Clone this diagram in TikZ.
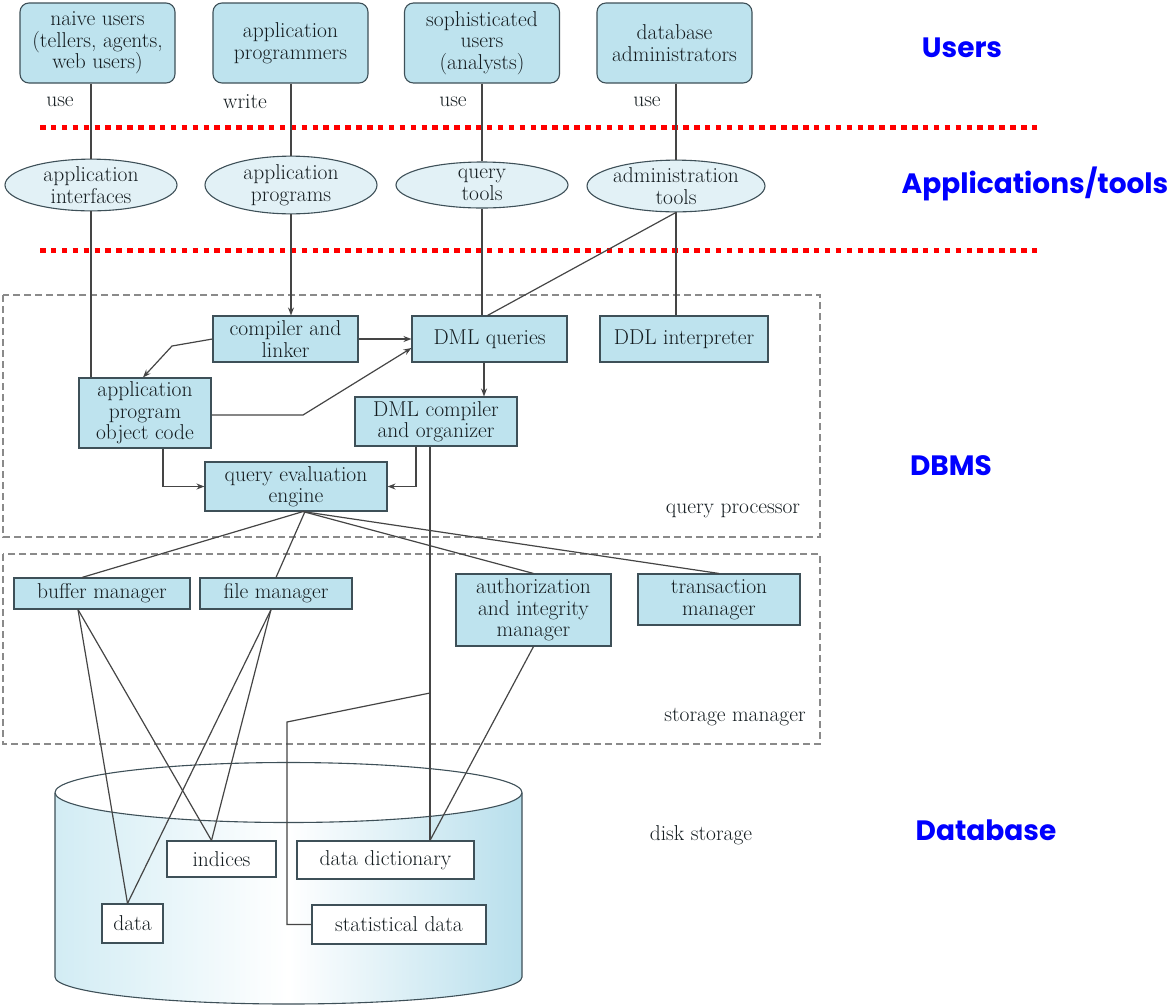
\documentclass[tikz,border=0pt]{standalone}
\usepackage{fontspec}
\newfontfamily\tagfont{Poppins}
\usetikzlibrary{shapes.geometric,arrows.meta,calc}
\definecolor{boxfill}{HTML}{BEE3EE}
\definecolor{toolfill}{HTML}{E2F1F6}
\definecolor{boxline}{HTML}{3E5058}
\definecolor{linecol}{HTML}{454545}
\definecolor{textcol}{HTML}{141C20}
\definecolor{groupcol}{HTML}{8A8A8A}
\definecolor{cylL}{HTML}{D2ECF4}
\definecolor{cylR}{HTML}{B8DFEC}
\newcommand\dfont{\fontsize{21.5}{21.5}\selectfont}
\newcommand\tagsize{\fontsize{28}{28}\selectfont}
\begin{document}
\begin{tikzpicture}[x=1pt,y=-1pt,
  box/.style={draw=boxline, line width=1.1pt, fill=boxfill, inner sep=0pt,
    align=center, font=\dfont, text=textcol},
  ubox/.style={box, rounded corners=9pt, minimum width=155pt, minimum height=80pt},
  tool/.style={ellipse, draw=boxline, line width=1.1pt, fill=toolfill, inner sep=0pt,
    align=center, font=\dfont, text=textcol, minimum width=172pt, minimum height=46pt},
  store/.style={box, fill=white},
  link/.style={draw=linecol, line width=1.2pt},
  arr/.style={link, -{Stealth[length=8pt,width=6pt]}},
  sep/.style={red, line width=5pt, dash pattern=on 5.5pt off 5.4pt},
  group/.style={draw=groupcol, line width=1.3pt, dash pattern=on 7pt off 4pt},
  note/.style={font=\dfont, text=textcol, inner sep=0pt},
  tag/.style={font=\tagfont\bfseries\tagsize, text=blue, inner sep=0pt},
  cylline/.style={draw=boxline, line width=1.1pt}
]
\useasboundingbox (0,0) rectangle (1173,1005);

% disk storage cylinder
\shade[left color=cylL, right color=cylR, middle color=white]
  (55,793) -- (55,977) arc[start angle=180, end angle=360, x radius=233.5pt, y radius=27pt]
  -- (522,793) -- cycle;
\draw[cylline] (55,793) -- (55,977) arc[start angle=180, end angle=360, x radius=233.5pt, y radius=27pt]
  -- (522,793);
\draw[cylline, fill=white] (288.5,792.5) ellipse [x radius=233.5pt, y radius=30pt];

% layer separators
\draw[sep] (40,127) -- (1038,127);
\draw[sep] (40,250) -- (1038,250);

% dashed groups
\draw[group] (3,295) rectangle (820,537);
\draw[group] (3,554) rectangle (820,744);
\node[note] at (733,511) {query processor};
\node[note] at (735,717) {storage manager};
\node[note] at (701,835) {disk storage};

% users
\node[ubox] (u1) at (97.5,43) {naive users\\(tellers, agents,\\web users)};
\node[ubox] (u2) at (290.5,43) {application\\programmers};
\node[ubox] (u3) at (482,43) {sophisticated\\users\\(analysts)};
\node[ubox] (u4) at (674.5,43) {database\\administrators};

\node[note] (l1) at (60,102) {use};
\node[note] (l2) at (245,102) {write};
\node[note] (l3) at (453,102) {use};
\node[note] (l4) at (647,102) {use};

% applications and tools
\node[tool] (a1) at (91,185) {application\\interfaces};
\node[tool] (a2) at (291,185) {application\\programs};
\node[tool] (a3) at (482,185) {query\\tools};
\node[tool] (a4) at (676,186) {administration\\tools};

% query processor
\node[box, minimum width=145pt, minimum height=46pt] (cl) at (285.5,339) {compiler and\\linker};
\node[box, minimum width=155pt, minimum height=46pt] (dq) at (489.5,339) {DML queries};
\node[box, minimum width=168pt, minimum height=46pt] (ddl) at (684,339) {DDL interpreter};
\node[box, minimum width=132pt, minimum height=70pt] (apc) at (145,413) {application\\program\\object code};
\node[box, minimum width=162pt, minimum height=49pt] (dc) at (436,421.5) {DML compiler\\and organizer};
\node[box, minimum width=182pt, minimum height=49pt] (qe) at (296,486.5) {query evaluation\\engine};

% storage manager
\node[box, minimum width=176pt, minimum height=31pt] (buf) at (102,593.5) {buffer manager};
\node[box, minimum width=152pt, minimum height=31pt] (fm) at (276,593.5) {file manager};
\node[box, minimum width=155pt, minimum height=72pt] (auth) at (533.5,610) {authorization\\and integrity\\manager};
\node[box, minimum width=162pt, minimum height=51pt] (tm) at (719,599.5) {transaction\\manager};

% disk contents
\node[store, minimum width=109pt, minimum height=36pt] (idx) at (221.5,859) {indices};
\node[store, minimum width=177pt, minimum height=38pt] (dd) at (385.5,860) {data dictionary};
\node[store, minimum width=61pt, minimum height=39pt] (data) at (132.5,923.5) {data};
\node[store, minimum width=174pt, minimum height=39pt] (sd) at (399,924.5) {statistical data};

% helper points
\coordinate (clbend) at (172,346);
\coordinate (apcbend) at (303,415);
\coordinate (dqx) at (484,0);
\coordinate (j) at (430,693);
\coordinate (k) at (287,722);

% users to tools
\draw[link] (a1.north |- u1.south) -- (a1.north);
\draw[link] (a2.north |- u2.south) -- (a2.north);
\draw[link] (a3.north |- u3.south) -- (a3.north);
\draw[link] (a4.north |- u4.south) -- (a4.north);

% tools into the query processor
\draw[link] (a1.south) -- (a1.south |- apc.north);
\draw[arr] (a2.south) -- (a2.south |- cl.north);
\draw[link] (a3.south) -- (a3.south |- dq.north);
\draw[link] (a4.south) -- ([xshift=-2pt]dq.north);
\draw[link] (a4.south) -- (a4.south |- ddl.north);

% query processor flow
\draw[arr] (cl.east) -- (dq.west);
\draw[arr] (cl.west) -- (clbend) -- ([xshift=-2pt]apc.north);
\draw[arr] ([yshift=-2pt]apc.east) -- (apcbend) -- ([yshift=-9pt]dq.west);
\draw[arr] (dq.south -| dqx) -- (dc.north -| dqx);
\draw[arr] ([xshift=18pt]apc.south) |- (qe.west);
\draw[arr] ([xshift=-20pt]dc.south) |- (qe.east);

% engine to storage manager
\draw[link] ([xshift=7pt]qe.south) -- ([xshift=-20pt]buf.north);
\draw[link] ([xshift=9pt]qe.south) -- (fm.north);
\draw[link] ([xshift=7pt]qe.south) -- (auth.north);
\draw[link] ([xshift=7pt]qe.south) -- (tm.north);

% storage manager to disk
\draw[link] ([xshift=-24pt]buf.south) -- ([xshift=-5pt]data.north);
\draw[link] ([xshift=-24pt]buf.south) -- ([xshift=-10pt]idx.north);
\draw[link] ([xshift=-5pt]fm.south) -- ([xshift=-5pt]data.north);
\draw[link] ([xshift=-5pt]fm.south) -- ([xshift=-10pt]idx.north);
\draw[link] (auth.south) -- (dd.north -| j);
\draw[link] (dc.south -| j) -- (dd.north -| j);
\draw[link] (j) -- (k) |- (sd.west);

% layer tags
\node[tag] at (962,48) {Users};
\node[tag] at (1035,184) {Applications/tools};
\node[tag] at (951,466) {DBMS};
\node[tag] at (986,830) {Database};
\end{tikzpicture}
\end{document}
